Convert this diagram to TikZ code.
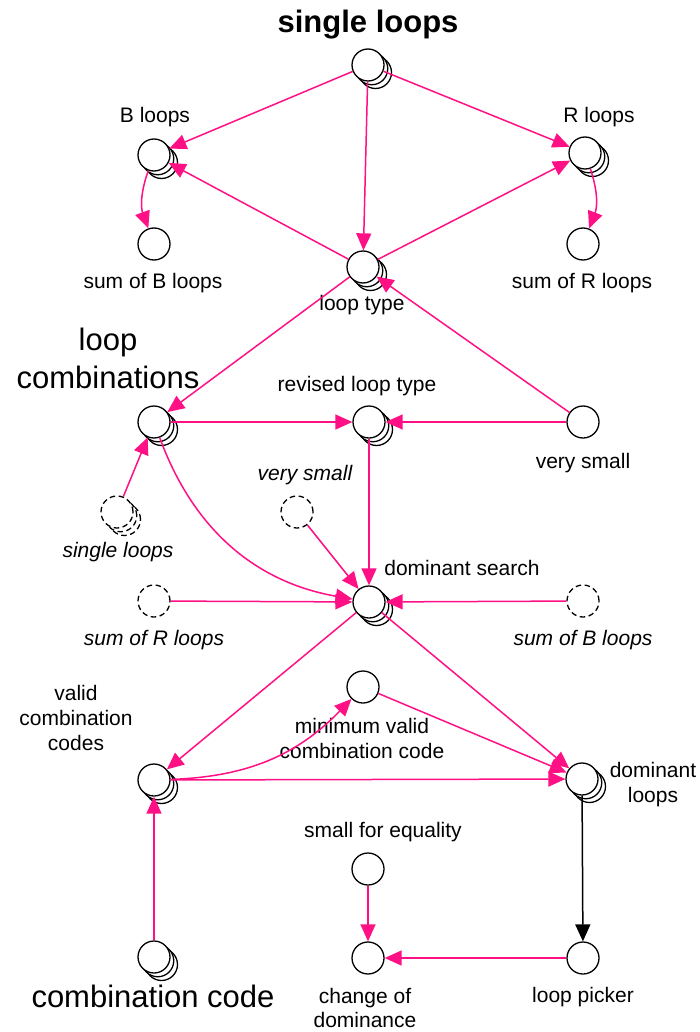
\documentclass[tikz,border=0pt]{standalone}
\usepackage{fontspec}
\setmainfont{Liberation Sans}
\usetikzlibrary{arrows.meta,shadows}
\definecolor{linkpink}{RGB}{255,16,132}
\tikzset{
  var/.style={circle, draw=black, fill=white, line width=1.3pt, minimum size=32pt, inner sep=0pt},
  stk/.style={
    general shadow={shadow xshift=7.5pt, shadow yshift=-7.5pt, draw=black, fill=white, line width=1.3pt},
    general shadow={shadow xshift=3.75pt, shadow yshift=-3.75pt, draw=black, fill=white, line width=1.3pt}},
  ghost/.style={var, dash pattern=on 5.5pt off 3.5pt},
  gstk/.style={
    general shadow={shadow xshift=7.5pt, shadow yshift=-7.5pt, draw=black, fill=white, line width=1.3pt, dash pattern=on 5.5pt off 3.5pt},
    general shadow={shadow xshift=3.75pt, shadow yshift=-3.75pt, draw=black, fill=white, line width=1.3pt, dash pattern=on 5.5pt off 3.5pt}},
  lbl/.style={anchor=base, inner sep=0pt, font=\fontsize{21}{25}\selectfont},
  ilbl/.style={anchor=base, inner sep=0pt, font=\fontsize{21}{25}\selectfont\itshape},
  big/.style={anchor=base, inner sep=0pt, font=\fontsize{31}{38}\selectfont},
  lk/.style={draw=linkpink, line width=1.5pt, -{Triangle[length=17pt,width=15pt]}},
  blk/.style={draw=black, line width=1.5pt, -{Triangle[length=17pt,width=15pt]}}
}
\begin{document}
\begin{tikzpicture}[x=1pt,y=1pt]
\useasboundingbox (0,0) rectangle (700,-1032);

% variables
\node[var,stk] (slo) at (368,-65) {};
\node[var,stk] (blo) at (154,-155) {};
\node[var,stk] (rlo) at (585,-153) {};
\node[var] (sbl) at (154,-244) {};
\node[var] (srl) at (583,-244) {};
\node[var,stk] (lty) at (363,-267) {};
\node[var,stk] (lco) at (154,-422) {};
\node[var,stk] (rlt) at (369,-422) {};
\node[var] (vsm) at (583,-422) {};
\node[ghost,gstk] (gsl) at (117,-512) {};
\node[ghost] (gvs) at (297,-512) {};
\node[var,stk] (dse) at (369,-602) {};
\node[ghost] (gsr) at (154,-601) {};
\node[ghost] (gsb) at (583,-601) {};
\node[var] (mvc) at (363,-687) {};
\node[var,stk] (vcc) at (154,-780) {};
\node[var,stk] (dlo) at (582,-779) {};
\node[var] (sfe) at (368,-869) {};
\node[var] (cod) at (368,-958) {};
\node[var] (lpi) at (583,-958) {};
\node[var,stk] (cco) at (154,-957) {};

% names
\node[big, font=\fontsize{31}{38}\selectfont\bfseries] (t-slo) at (368,-33) {single loops};
\node[lbl] (t-blo) at (155,-123) {B loops};
\node[lbl] (t-rlo) at (599,-123) {R loops};
\node[lbl] (t-sbl) at (153,-288) {sum of B loops};
\node[lbl] (t-srl) at (582,-288) {sum of R loops};
\node[lbl] (t-lty) at (362,-310) {loop type};
\node[big] (t-lco1) at (108,-350) {loop};
\node[big] (t-lco2) at (108,-388) {combinations};
\node[lbl] (t-rlt) at (357,-391) {revised loop type};
\node[lbl] (t-vsm) at (583,-468) {very small};
\node[ilbl] (t-gsl) at (118,-557) {single loops};
\node[ilbl] (t-gvs) at (305,-480) {very small};
\node[lbl] (t-dse) at (462,-575) {dominant search};
\node[ilbl] (t-gsr) at (154,-645) {sum of R loops};
\node[ilbl] (t-gsb) at (583,-645) {sum of B loops};
\node[lbl] (t-vcc1) at (76,-700) {valid};
\node[lbl] (t-vcc2) at (76,-725) {combination};
\node[lbl] (t-vcc3) at (76,-750) {codes};
\node[lbl] (t-mvc1) at (362,-733) {minimum valid};
\node[lbl] (t-mvc2) at (362,-758) {combination code};
\node[lbl] (t-dlo1) at (653,-777) {dominant};
\node[lbl] (t-dlo2) at (653,-802) {loops};
\node[lbl] (t-sfe) at (383,-837) {small for equality};
\node[lbl] (t-cod1) at (365,-1003) {change of};
\node[lbl] (t-cod2) at (365,-1027) {dominance};
\node[lbl] (t-lpi) at (583,-1002) {loop picker};
\node[big] (t-cco) at (153,-1007) {combination code};

% links
\draw[lk] (slo) -- (blo);
\draw[lk] (slo) -- (rlo);
\draw[lk] (slo) -- (lty);
\draw[lk] (lty) -- (blo);
\draw[lk] (lty) -- (rlo);
\draw[lk] (blo) to[bend right=20] (sbl);
\draw[lk] (rlo) to[bend left=20] (srl);
\draw[lk] (lty) -- (lco);
\draw[lk] (vsm) -- (lty);
\draw[lk] (lco) -- (rlt);
\draw[lk] (vsm) -- (rlt);
\draw[lk] (gsl) -- (lco);
\draw[lk] (lco) to[bend right=30] (dse);
\draw[lk] (rlt) -- (dse);
\draw[lk] (gvs) -- (dse);
\draw[lk] (gsr) -- (dse);
\draw[lk] (gsb) -- (dse);
\draw[lk] (dse) -- (vcc);
\draw[lk] (dse) -- (dlo);
\draw[lk] (vcc) to[bend right=22] (mvc);
\draw[lk] (mvc) -- (dlo);
\draw[lk] (vcc) -- (dlo);
\draw[lk] (cco) -- (vcc);
\draw[blk] (dlo) -- (lpi);
\draw[lk] (sfe) -- (cod);
\draw[lk] (lpi) -- (cod);
\end{tikzpicture}
\end{document}
